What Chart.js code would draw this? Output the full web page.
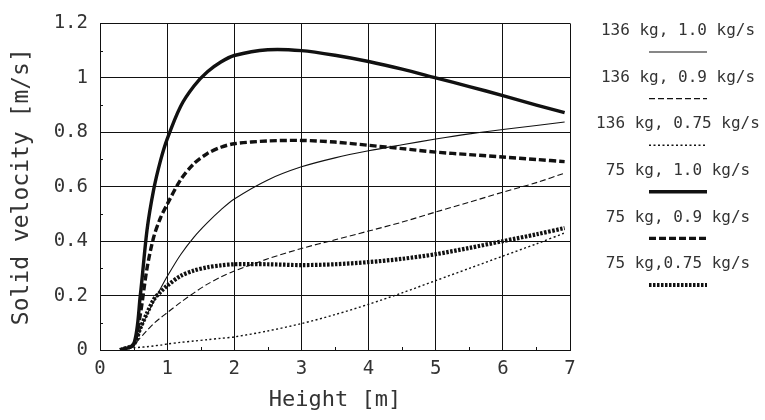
<!DOCTYPE html>
<html>
<head>
<meta charset="utf-8">
<script src="https://cdn.jsdelivr.net/npm/chart.js@4.4.1/dist/chart.umd.min.js"></script>
<style>
  html, body { margin: 0; padding: 0; background: #fff; }
  #c { display: block; }
</style>
</head>
<body>
<canvas id="c" width="765" height="420"></canvas>
<script>
// ---- data ----
const heights = [0.3, 0.5, 0.6, 0.7, 0.8, 0.9, 1.0, 1.2, 1.4, 1.6, 1.8, 2.0, 2.5, 3.0, 3.5, 4.0, 4.5, 5.0, 5.5, 6.0, 6.5, 6.92];

const seriesLabels = [
  '136 kg, 1.0 kg/s',
  '136 kg, 0.9 kg/s',
  '136 kg, 0.75 kg/s',
  '75 kg, 1.0 kg/s',
  '75 kg, 0.9 kg/s',
  '75 kg,0.75 kg/s'
];

const v136_10  = [0, 0.02, 0.075, 0.13, 0.178, 0.225, 0.27, 0.35, 0.415, 0.468, 0.515, 0.555, 0.625, 0.673, 0.706, 0.732, 0.754, 0.775, 0.794, 0.81, 0.825, 0.838];
const v136_09  = [0, 0.02, 0.045, 0.072, 0.097, 0.118, 0.137, 0.175, 0.21, 0.242, 0.268, 0.29, 0.335, 0.373, 0.405, 0.437, 0.47, 0.507, 0.543, 0.58, 0.615, 0.65];
const v136_075 = [0, 0.008, 0.01, 0.012, 0.015, 0.018, 0.022, 0.028, 0.033, 0.038, 0.043, 0.048, 0.07, 0.097, 0.13, 0.168, 0.21, 0.255, 0.3, 0.345, 0.39, 0.43];
const v75_10   = [0, 0.02, 0.2, 0.44, 0.59, 0.695, 0.775, 0.895, 0.97, 1.022, 1.058, 1.082, 1.103, 1.1, 1.083, 1.06, 1.032, 1.0, 0.968, 0.935, 0.9, 0.872];
const v75_09   = [0, 0.02, 0.13, 0.3, 0.415, 0.485, 0.535, 0.625, 0.685, 0.722, 0.745, 0.758, 0.768, 0.77, 0.764, 0.752, 0.74, 0.727, 0.718, 0.709, 0.7, 0.692];
const v75_075  = [0, 0.02, 0.08, 0.135, 0.185, 0.213, 0.236, 0.272, 0.292, 0.304, 0.311, 0.315, 0.315, 0.312, 0.315, 0.323, 0.335, 0.352, 0.375, 0.4, 0.425, 0.448];

const xTicksMin = 0, xTicksMax = 7, xStep = 1;
const yTicksMin = 0, yTicksMax = 1.2, yStep = 0.2;

// ---- styles ----
const INK = '#111';
const TXT = '#333';
const MONO = '"DejaVu Sans Mono", "Liberation Mono", monospace';

const styles = [
  { borderWidth: 1.1, borderDash: [] },
  { borderWidth: 1.1, borderDash: [6, 3] },
  { borderWidth: 1.4, borderDash: [2, 2.5] },
  { borderWidth: 3.4, borderDash: [] },
  { borderWidth: 3.4, borderDash: [7, 3] },
  { borderWidth: 4.2, borderDash: [2.5, 1.5] }
];
const allSeries = [v136_10, v136_09, v136_075, v75_10, v75_09, v75_075];

const datasets = allSeries.map((vals, i) => ({
  label: seriesLabels[i],
  data: heights.map((h, k) => ({ x: h, y: vals[k] })),
  borderColor: INK,
  borderWidth: styles[i].borderWidth,
  borderDash: styles[i].borderDash,
  pointRadius: 0,
  fill: false,
  tension: 0.3,
  borderCapStyle: 'butt'
}));

// minor ticks + custom legend
const extras = {
  id: 'extras',
  afterDraw(chart) {
    const ctx = chart.ctx;
    const xs = chart.scales.x, ys = chart.scales.y;
    const a = chart.chartArea;
    ctx.save();
    ctx.strokeStyle = INK;
    ctx.lineWidth = 1;
    ctx.setLineDash([]);
    ctx.beginPath();
    for (let v = 0.1; v < yTicksMax; v += 0.2) {
      const y = Math.round(ys.getPixelForValue(v)) + 0.5;
      ctx.moveTo(a.left, y); ctx.lineTo(a.left + 3, y);
    }
    for (let v = 0.5; v < xTicksMax; v += 1) {
      const x = Math.round(xs.getPixelForValue(v)) + 0.5;
      ctx.moveTo(x, a.bottom); ctx.lineTo(x, a.bottom - 3);
    }
    ctx.stroke();

    // legend: text with a line sample under it
    const cx = 678, y0 = 31, dy = 46.6;
    ctx.font = '16px ' + MONO;
    ctx.textAlign = 'center';
    ctx.textBaseline = 'middle';
    chart.data.datasets.forEach((ds, i) => {
      const ty = y0 + dy * i;
      ctx.fillStyle = TXT;
      ctx.fillText(ds.label, cx, ty);
      ctx.strokeStyle = INK;
      ctx.lineWidth = ds.borderWidth;
      ctx.setLineDash(ds.borderDash);
      ctx.beginPath();
      ctx.moveTo(cx - 29, ty + 21);
      ctx.lineTo(cx + 29, ty + 21);
      ctx.stroke();
    });
    ctx.restore();
  }
};

new Chart(document.getElementById('c'), {
  type: 'line',
  data: { datasets },
  plugins: [extras],
  options: {
    responsive: false,
    animation: false,
    devicePixelRatio: 1,
    layout: { padding: { top: 20, right: 195, left: 0, bottom: 0 } },
    plugins: { legend: { display: false }, tooltip: { enabled: false } },
    scales: {
      x: {
        type: 'linear',
        min: xTicksMin, max: xTicksMax,
        ticks: { stepSize: xStep, color: TXT, font: { family: MONO, size: 19 }, padding: 8 },
        grid: { color: INK, lineWidth: 1, drawTicks: false },
        border: { color: INK, width: 1 },
        title: { display: true, text: 'Height [m]', color: TXT, font: { family: MONO, size: 22 }, padding: { top: 0, bottom: 7 } },
        afterFit(s) { s.height = 70; }
      },
      y: {
        type: 'linear',
        min: yTicksMin, max: yTicksMax,
        ticks: {
          stepSize: yStep, color: TXT, font: { family: MONO, size: 19 }, padding: 12,
          callback: v => String(Number(v.toFixed(1)))
        },
        grid: { color: INK, lineWidth: 1, drawTicks: false },
        border: { color: INK, width: 1 },
        title: { display: true, text: 'Solid velocity [m/s]', color: TXT, font: { family: MONO, size: 23 }, padding: { top: 8, bottom: 0 } },
        afterFit(s) { s.width = 100; }
      }
    }
  }
});
</script>
</body>
</html>
